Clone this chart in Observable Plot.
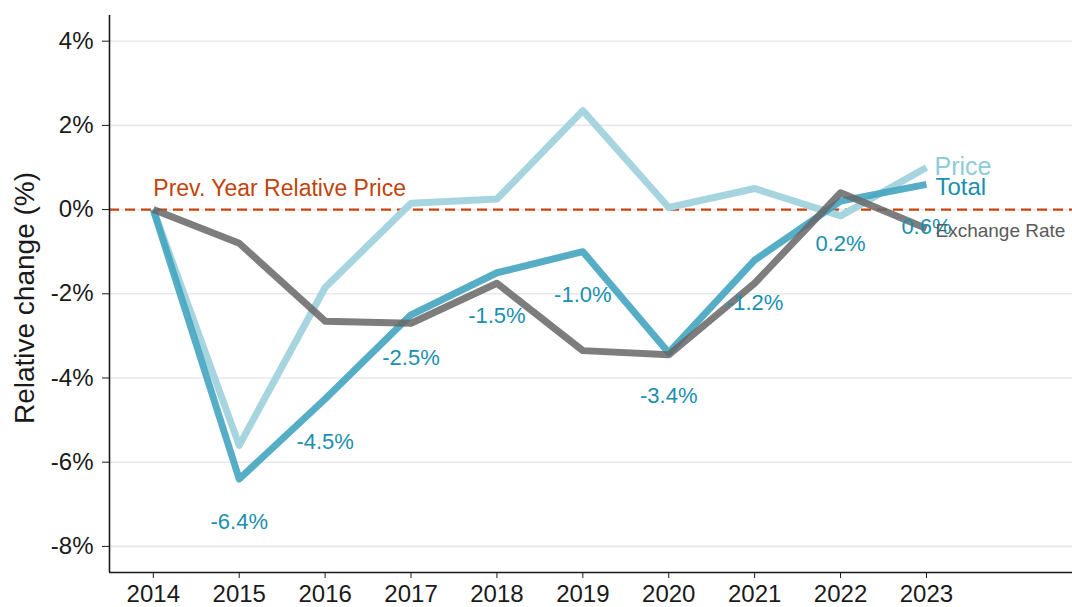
<!DOCTYPE html>
<html>
<head>
<meta charset="utf-8">
<script src="https://cdn.jsdelivr.net/npm/d3@7"></script>
<script src="https://cdn.jsdelivr.net/npm/@observablehq/plot@0.6"></script>
<style>
  html, body { margin: 0; padding: 0; background: #ffffff; }
  #chart { width: 1072px; height: 607px; }
</style>
</head>
<body>
<div id="chart"></div>
<script>
// ---- data ----
const years = [2014, 2015, 2016, 2017, 2018, 2019, 2020, 2021, 2022, 2023];
const totalChange = [0, -6.4, -4.5, -2.5, -1.5, -1.0, -3.4, -1.2, 0.2, 0.6];
const priceChange = [0, -5.6, -1.85, 0.15, 0.25, 2.35, 0.05, 0.5, -0.15, 1.0];
const exchangeChange = [0, -0.8, -2.65, -2.7, -1.75, -3.35, -3.45, -1.75, 0.4, -0.45];
const seriesNames = ["Price", "Total", "Exchange Rate"];
const yTicks = [-8, -6, -4, -2, 0, 2, 4];
const refLabel = "Prev. Year Relative Price";
const yTitle = "Relative change (%)";

// ---- tables ----
const rows = (vals) => years.map((yr, i) => ({year: yr, value: vals[i]}));
const priceRows = rows(priceChange);
const totalRows = rows(totalChange);
const exchangeRows = rows(exchangeChange);
const totalLabels = totalRows.filter((d, i) => i > 0);
const last = years.length - 1;
const endLabels = [
  {name: seriesNames[0], year: years[last], value: priceChange[last]},
  {name: seriesNames[1], year: years[last], value: totalChange[last]},
  {name: seriesNames[2], year: years[last], value: exchangeChange[last]}
];

const xDom = [2013.49, 2024.7];
const yDom = [-8.62, 4.61];

const chart = Plot.plot({
  width: 1072,
  height: 607,
  marginLeft: 109,
  marginRight: 0,
  marginTop: 15,
  marginBottom: 35,
  x: {domain: xDom},
  y: {domain: yDom},
  style: {fontFamily: "'Liberation Sans', Arial, sans-serif", background: "#ffffff", color: "#1a1a1a"},
  marks: [
    Plot.gridY(yTicks, {stroke: "#e8e8e8", strokeOpacity: 1, strokeWidth: 1.6}),
    Plot.ruleY([0], {stroke: "#c8440a", strokeWidth: 2.4, strokeDasharray: "10,6"}),
    Plot.text([refLabel], {x: years[0], y: 0, dy: -21, text: d => d, textAnchor: "start", fill: "#c0440b", fontSize: 23}),
    Plot.line(priceRows, {x: "year", y: "value", stroke: "#a6d5df", strokeWidth: 7, strokeLinejoin: "round", strokeLinecap: "butt"}),
    Plot.line(totalRows, {x: "year", y: "value", stroke: "#42a5c0", strokeOpacity: 0.9, strokeWidth: 7, strokeLinejoin: "round", strokeLinecap: "butt"}),
    Plot.line(exchangeRows, {x: "year", y: "value", stroke: "#666666", strokeOpacity: 0.85, strokeWidth: 7, strokeLinejoin: "round", strokeLinecap: "butt"}),
    Plot.text(totalLabels, {x: "year", y: "value", dy: 43, text: d => d.value.toFixed(1) + "%", fill: "#1a8fb0", fontSize: 22}),
    Plot.text(endLabels.slice(0, 1), {x: "year", y: "value", text: "name", dx: 8, textAnchor: "start", fill: "#8ecbd8", fontSize: 25}),
    Plot.text(endLabels.slice(1, 2), {x: "year", y: "value", text: "name", dx: 9, dy: 3, textAnchor: "start", fill: "#1a8fb0", fontSize: 24}),
    Plot.text(endLabels.slice(2, 3), {x: "year", y: "value", text: "name", dx: 9, dy: 2, textAnchor: "start", fill: "#5a5a5a", fontSize: 19}),
    Plot.axisY(yTicks, {tickFormat: d => d + "%", fontSize: 24, tickSize: 7, tickPadding: 9, label: null, stroke: "#1a1a1a", fill: "#1a1a1a"}),
    Plot.axisX(years, {tickFormat: d => String(d), fontSize: 24, tickSize: 6, tickPadding: 6, label: null, stroke: "#1a1a1a", fill: "#1a1a1a"}),
    Plot.ruleX([xDom[0]], {stroke: "#1a1a1a", strokeWidth: 1.6}),
    Plot.ruleY([yDom[0]], {stroke: "#1a1a1a", strokeWidth: 1.6}),
    Plot.text([yTitle], {frameAnchor: "left", textAnchor: "middle", dx: -84, dy: 4, rotate: -90, text: d => d, fontSize: 28, fill: "#1a1a1a"})
  ]
});
document.getElementById("chart").appendChild(chart);
</script>
</body>
</html>
